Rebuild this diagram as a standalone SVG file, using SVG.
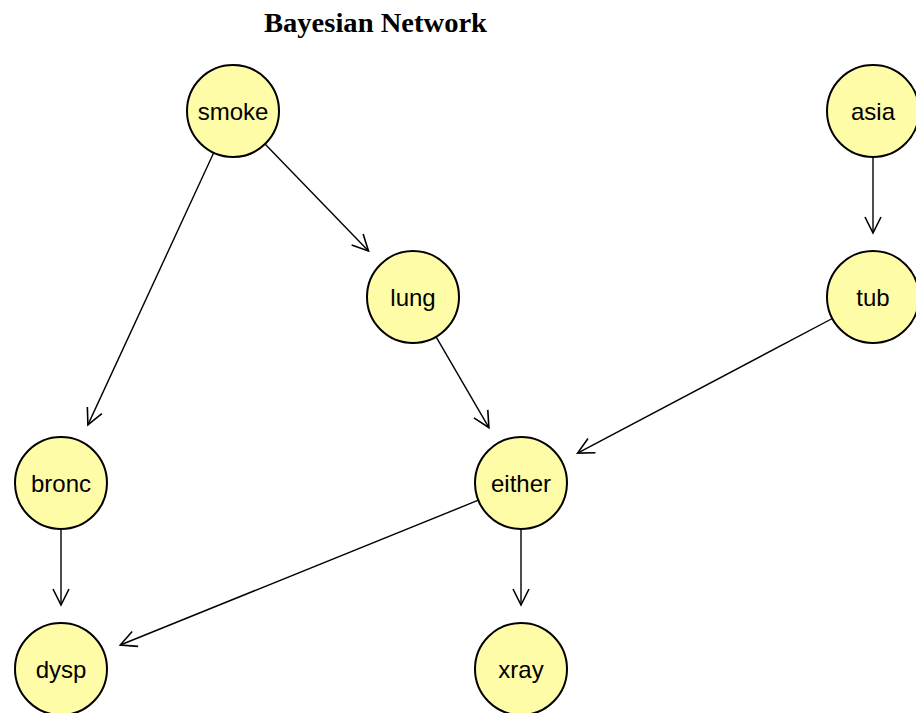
<svg xmlns="http://www.w3.org/2000/svg" width="916" height="713" viewBox="0 0 916 713">
  <style>
    .node circle { fill: #FFFCA8; stroke: #000; stroke-width: 2; }
    .node text { font-family: "Liberation Sans", Arial, sans-serif; font-size: 24px; text-anchor: middle; fill: #000; }
    .edge { stroke: #000; stroke-width: 1.4; fill: none; marker-end: url(#head); }
    .title { font-family: "Liberation Serif", "Times New Roman", serif; font-weight: bold; font-size: 27px; fill: #000; }
  </style>
  <defs>
    <marker id="head" markerUnits="userSpaceOnUse" markerWidth="40" markerHeight="40" viewBox="-20 -20 40 40" refX="0" refY="0" orient="auto">
      <path d="M-16,-8 L0,0 L-16,8" fill="none" stroke="#000" stroke-width="1.6"/>
    </marker>
  </defs>
  <rect width="916" height="713" fill="#fff"/>
  <text class="title" x="264" y="32" textLength="223" lengthAdjust="spacingAndGlyphs">Bayesian Network</text>

  <g id="connectors">
    <line class="edge" x1="265" y1="144" x2="368.5" y2="251"/>
    <line class="edge" x1="213.7" y1="152.8" x2="87.9" y2="424.9"/>
    <line class="edge" x1="873" y1="157" x2="873" y2="233"/>
    <line class="edge" x1="436.1" y1="336.8" x2="488.9" y2="427.7"/>
    <line class="edge" x1="832.3" y1="318.5" x2="577.6" y2="453.1"/>
    <line class="edge" x1="61" y1="529" x2="61" y2="605"/>
    <line class="edge" x1="478.4" y1="500.2" x2="120.3" y2="645"/>
    <line class="edge" x1="521" y1="529" x2="521" y2="605"/>
  </g>

  <g id="smoke" class="node"><circle cx="233" cy="111" r="46"/><text x="233" y="119.5">smoke</text></g>
  <g id="asia" class="node"><circle cx="873" cy="111" r="46"/><text x="873" y="119.5">asia</text></g>
  <g id="lung" class="node"><circle cx="413" cy="297" r="46"/><text x="413" y="305.5">lung</text></g>
  <g id="tub" class="node"><circle cx="873" cy="297" r="46"/><text x="873" y="305.5">tub</text></g>
  <g id="bronc" class="node"><circle cx="61" cy="483" r="46"/><text x="61" y="491.5">bronc</text></g>
  <g id="either" class="node"><circle cx="521" cy="483" r="46"/><text x="521" y="491.5">either</text></g>
  <g id="dysp" class="node"><circle cx="61" cy="669" r="46"/><text x="61" y="677.5">dysp</text></g>
  <g id="xray" class="node"><circle cx="521" cy="669" r="46"/><text x="521" y="677.5">xray</text></g>
</svg>
